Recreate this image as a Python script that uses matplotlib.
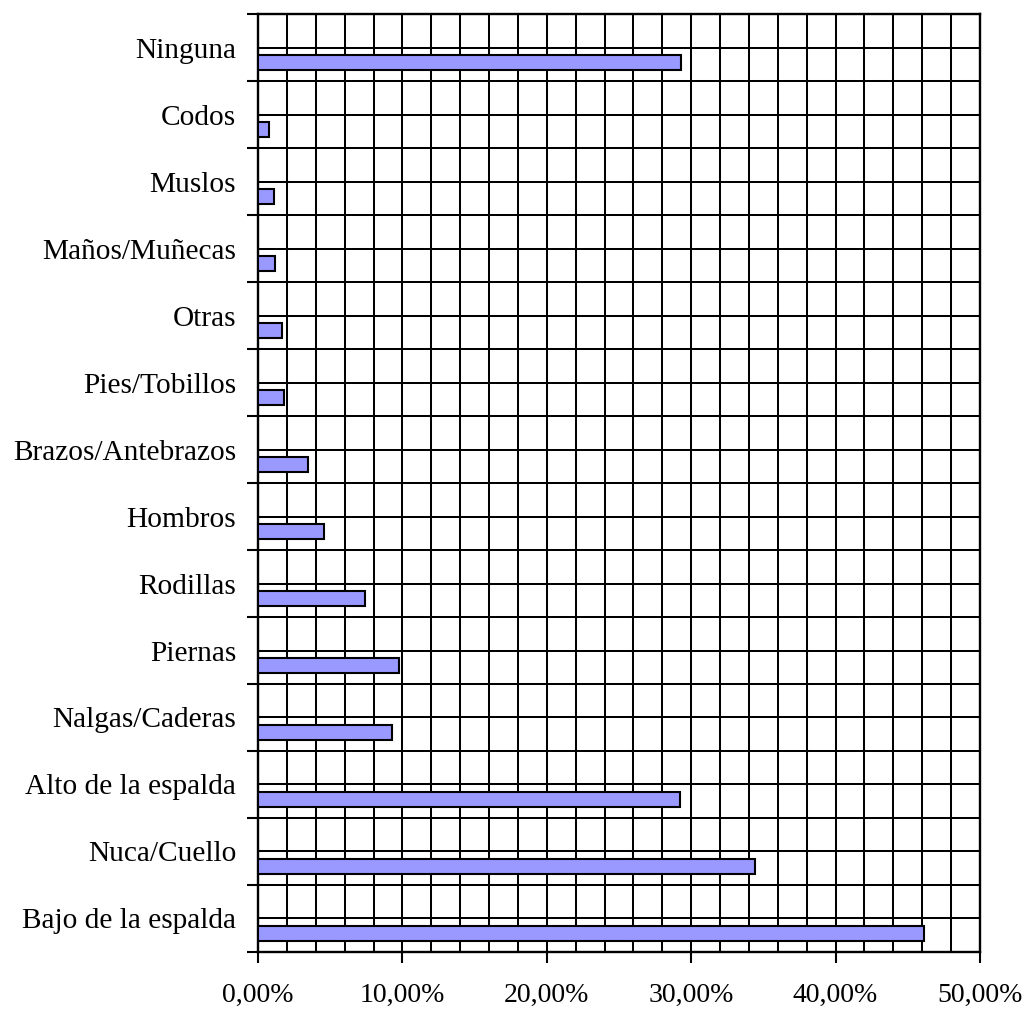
import numpy as np
import matplotlib
matplotlib.use('Agg')
import matplotlib.pyplot as plt
from matplotlib.ticker import MultipleLocator, FixedLocator, FuncFormatter, NullFormatter

plt.rcParams['font.family'] = ['Liberation Serif', 'DejaVu Serif']

# data, bottom to top
categories = ['Bajo de la espalda', 'Nuca/Cuello', 'Alto de la espalda', 'Nalgas/Caderas',
              'Piernas', 'Rodillas', 'Hombros', 'Brazos/Antebrazos', 'Pies/Tobillos',
              'Otras', 'Maños/Muñecas', 'Muslos', 'Codos', 'Ninguna']
values = [46.1, 34.4, 29.2, 9.25, 9.76, 7.38, 4.56, 3.47, 1.83, 1.69, 1.18, 1.09, 0.74, 29.3]

fig = plt.figure(figsize=(10.24, 10.09), dpi=100, facecolor='white')
ax = fig.add_axes([0.252, 0.0565, 0.705, 0.9296])

pos = np.arange(len(categories))
ax.barh(pos - 0.224, values, height=0.224, color='#9999FF',
        edgecolor='black', linewidth=1.5, zorder=3)

ax.set_xlim(0, 50)
ax.set_ylim(-0.5, len(categories) - 0.5)

# x axis: labels every 10%, grid every 2%
ax.xaxis.set_major_locator(MultipleLocator(10))
ax.xaxis.set_minor_locator(MultipleLocator(2))
ax.xaxis.set_major_formatter(FuncFormatter(lambda v, p: f'{v:.2f}%'.replace('.', ',')))
ax.tick_params(axis='x', which='major', direction='out', length=8, width=1.5,
               labelsize=20, pad=14.5)
ax.tick_params(axis='x', which='minor', length=0)

# y axis: ticks at category boundaries, labels at centers
ax.yaxis.set_major_locator(FixedLocator(np.arange(-0.5, len(categories), 1.0)))
ax.yaxis.set_major_formatter(NullFormatter())
ax.yaxis.set_minor_locator(FixedLocator(pos))
ax.set_yticklabels(categories, minor=True)
ax.tick_params(axis='y', which='major', direction='out', length=8, width=1.5)
ax.tick_params(axis='y', which='minor', length=0, labelsize=21.2, pad=15.8)

ax.set_axisbelow(True)
ax.grid(True, which='both', color='black', linewidth=1.45)

for s in ax.spines.values():
    s.set_linewidth(1.7)
    s.set_color('black')

fig.savefig('out.png', dpi=100, facecolor='white')
